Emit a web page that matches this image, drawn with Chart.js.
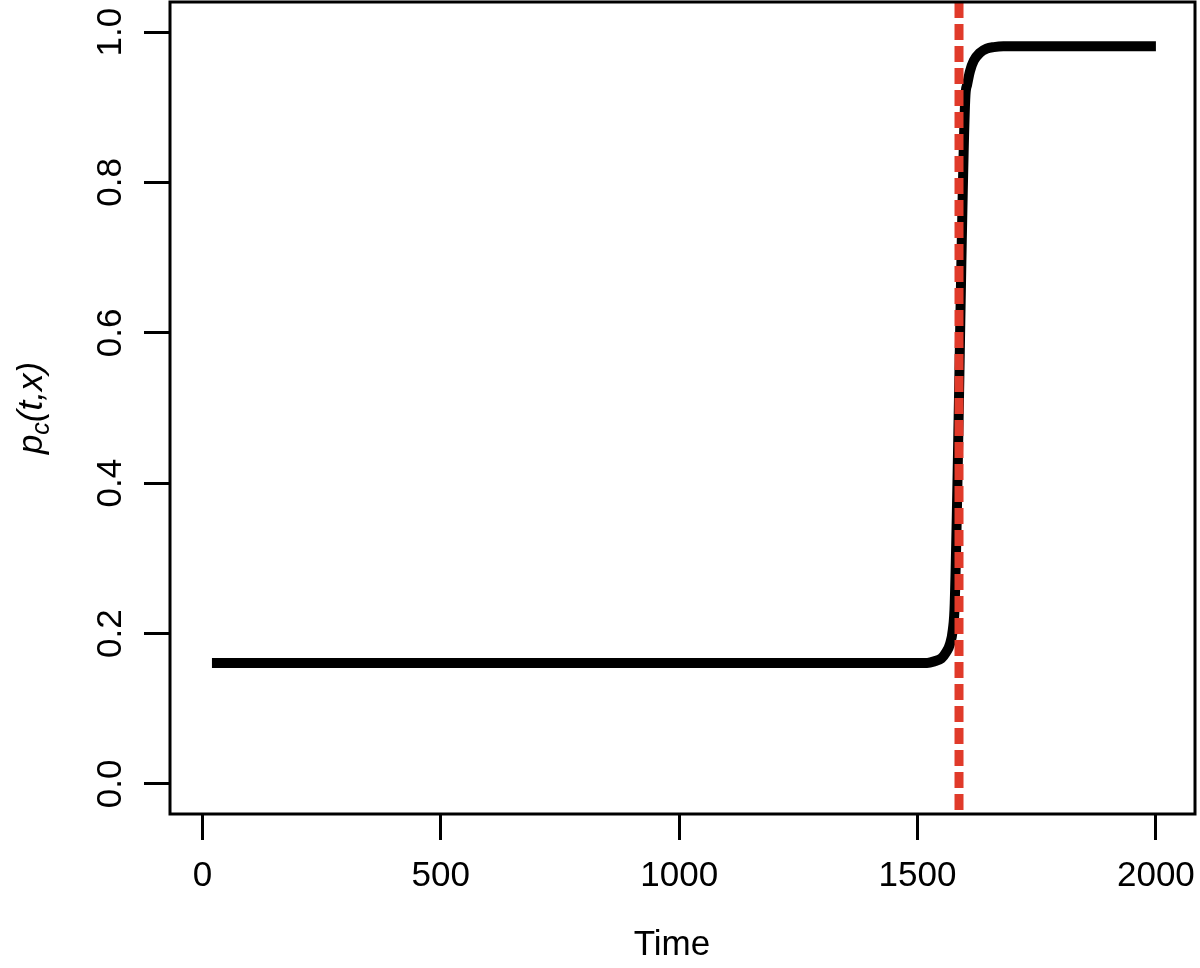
<!DOCTYPE html>
<html lang="en">
<head>
<meta charset="UTF-8">
<title>p_c(t,x) over time</title>
<script src="https://cdn.jsdelivr.net/npm/chart.js@4.4.1/dist/chart.umd.min.js"></script>
<style>
  html, body { margin: 0; padding: 0; background: #fff; }
  #wrap { width: 1200px; height: 968px; }
</style>
</head>
<body>
<div id="wrap"><canvas id="plot" width="1200" height="968"></canvas></div>
<script>
// values
const times = [20, 500, 1000, 1500, 1520, 1535, 1550, 1560, 1568, 1574, 1578, 1600, 1604, 1610, 1618, 1630, 1645, 1660, 1680, 2000]
const pc = [0.161, 0.161, 0.161, 0.161, 0.161, 0.163, 0.167, 0.175, 0.186, 0.205, 0.24, 0.91, 0.93, 0.948, 0.962, 0.972, 0.978, 0.980, 0.981, 0.981]
const changeTime = 1587
const xTicks = [0, 500, 1000, 1500, 2000]
const yTicks = [0, 0.2, 0.4, 0.6, 0.8, 1.0]
const xRange = [-68, 2082]
const yRange = [-0.04, 1.04]

const FONT = '"Liberation Sans", Arial, Helvetica, sans-serif'

// box, tick labels and axis titles, drawn the R way
const rAxes = {
    id: 'rAxes',
    afterDraw(chart) {
        const ctx = chart.ctx
        const a = chart.chartArea
        const sx = chart.scales.x
        const sy = chart.scales.y
        ctx.save()
        ctx.strokeStyle = '#000'
        ctx.lineWidth = 3
        ctx.strokeRect(a.left, a.top, a.right - a.left, a.bottom - a.top)

        ctx.fillStyle = '#000'
        ctx.font = '35px ' + FONT
        ctx.textAlign = 'center'
        ctx.textBaseline = 'middle'
        xTicks.forEach(function(v) {
            ctx.fillText(String(v), sx.getPixelForValue(v), 876)
        })
        yTicks.forEach(function(v) {
            ctx.save()
            ctx.translate(111, sy.getPixelForValue(v))
            ctx.rotate(-Math.PI / 2)
            ctx.fillText(v.toFixed(1), 0, 0)
            ctx.restore()
        })

        ctx.fillText('Time', 672, 945)

        // y title: p_c(t,x)
        ctx.save()
        ctx.translate(30, (a.top + a.bottom) / 2)
        ctx.rotate(-Math.PI / 2)
        ctx.textAlign = 'left'
        ctx.textBaseline = 'alphabetic'
        const big = 'italic 35px ' + FONT
        const small = 'italic 25px ' + FONT
        const parts = [['p', big, 0], ['c', small, 7], ['(t,x)', big, 0]]
        let w = 0
        parts.forEach(function(p) { ctx.font = p[1]; w += ctx.measureText(p[0]).width })
        let cx = -w / 2
        parts.forEach(function(p) {
            ctx.font = p[1]
            ctx.fillText(p[0], cx, 12 + p[2])
            cx += ctx.measureText(p[0]).width
        })
        ctx.restore()
        ctx.restore()
    }
}

const curve = times.map(function(t, i) { return { x: t, y: pc[i] } })
const vline = [{ x: changeTime, y: yRange[1] }, { x: changeTime, y: yRange[0] }]

new Chart(document.getElementById('plot'), {
    type: 'line',
    data: {
        datasets: [{
            data: vline,
            borderColor: '#E03A2A',
            borderWidth: 9,
            borderDash: [16, 6],
            borderCapStyle: 'butt',
            pointRadius: 0,
            tension: 0
        }, {
            data: curve,
            borderColor: '#000',
            borderWidth: 10,
            borderCapStyle: 'butt',
            borderJoinStyle: 'round',
            cubicInterpolationMode: 'monotone',
            pointRadius: 0
        }]
    },
    options: {
        responsive: false,
        animation: false,
        devicePixelRatio: 1,
        layout: { padding: { left: 0, right: 5, top: 2, bottom: 0 } },
        plugins: { legend: { display: false }, tooltip: { enabled: false } },
        scales: {
            x: {
                type: 'linear',
                min: xRange[0],
                max: xRange[1],
                afterBuildTicks(s) { s.ticks = xTicks.map(function(v) { return { value: v } }) },
                afterFit(s) { s.height = 154 },
                ticks: { display: false },
                border: { display: false },
                grid: { drawOnChartArea: false, drawTicks: true, tickLength: 26, color: '#000', lineWidth: 3 }
            },
            y: {
                type: 'linear',
                min: yRange[0],
                max: yRange[1],
                afterBuildTicks(s) { s.ticks = yTicks.map(function(v) { return { value: v } }) },
                afterFit(s) { s.width = 170 },
                ticks: { display: false },
                border: { display: false },
                grid: { drawOnChartArea: false, drawTicks: true, tickLength: 26, color: '#000', lineWidth: 3 }
            }
        }
    },
    plugins: [rAxes]
})
</script>
</body>
</html>
